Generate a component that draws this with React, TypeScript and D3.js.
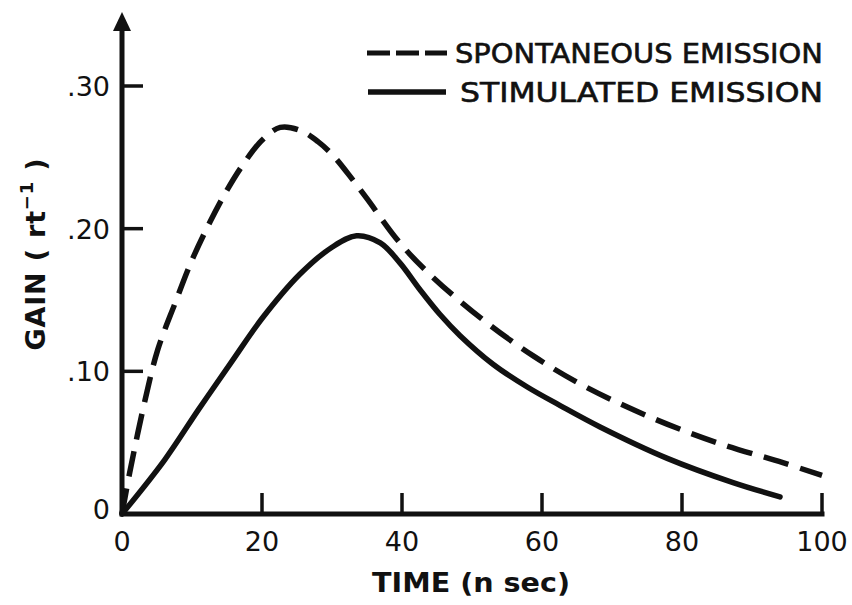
import React from "react";
import * as d3 from "d3";

const timeSpont = [0, 1.1, 3.3, 5.1, 7.6, 10, 12.6, 15, 17.3, 20, 22.6, 25.4, 28, 30.2, 33, 35, 39.7, 44.4, 51.6, 58.7, 65.9, 75.4, 85, 94.4, 100];
const gainSpont = [0, 0.029, 0.08, 0.115, 0.148, 0.178, 0.205, 0.227, 0.245, 0.262, 0.271, 0.269, 0.261, 0.251, 0.234, 0.221, 0.19, 0.166, 0.136, 0.111, 0.09, 0.068, 0.05, 0.036, 0.027];

const timeStim = [0, 6.1, 10.9, 15.7, 20, 25.4, 30, 33.5, 36.9, 39.7, 42.6, 45.4, 48.3, 53, 57.9, 62.6, 68.3, 77.9, 87.3, 94];
const gainStim = [0, 0.038, 0.073, 0.107, 0.137, 0.168, 0.187, 0.195, 0.19, 0.176, 0.157, 0.14, 0.125, 0.105, 0.089, 0.076, 0.061, 0.039, 0.022, 0.012];

const xTicks = [0, 20, 40, 60, 80, 100];
const xTickLabels = ["0", "20", "40", "60", "80", "100"];
const yTicks = [0, 0.1, 0.2, 0.3];
const yTickLabels = ["0", ".10", ".20", ".30"];

const seriesNames = ["SPONTANEOUS EMISSION", "STIMULATED EMISSION"];
const xTitle = "TIME (n sec)";

export default function App() {
  const x = d3.scaleLinear().domain([0, 100]).range([122, 822]);
  const y = d3.scaleLinear().domain([0, 0.3]).range([514, 86]);
  const ink = "#111";
  const font = "'DejaVu Sans', sans-serif";

  const line = d3
    .line<[number, number]>()
    .x((d) => x(d[0]))
    .y((d) => y(d[1]))
    .curve(d3.curveCatmullRom.alpha(0.5));

  const spont = timeSpont.map((t, i) => [t, gainSpont[i]] as [number, number]);
  const stim = timeStim.map((t, i) => [t, gainStim[i]] as [number, number]);

  const x0 = x(0);
  const y0 = y(0);

  return (
    <svg
      width={852}
      height={605}
      style={{ position: "absolute", left: 0, top: 0, background: "#fff" }}
    >
      <rect x={0} y={0} width={852} height={605} fill="#fff" />
      {/* axes */}
      <line x1={x0} y1={y0} x2={x(100)} y2={y0} stroke={ink} strokeWidth={5} strokeLinecap="square" />
      <line x1={x0} y1={y0} x2={x0} y2={28} stroke={ink} strokeWidth={5} />
      <path d={`M${x0},12 L${x0 - 9},31 L${x0 + 9},31 Z`} fill={ink} />

      {/* x ticks */}
      {xTicks.map((t, i) => (
        <g key={"xt" + t}>
          {t !== 0 && (
            <line x1={x(t)} y1={y0} x2={x(t)} y2={y0 - 21} stroke={ink} strokeWidth={3.5} />
          )}
          <text
            x={x(t)}
            y={551}
            textAnchor="middle"
            fontFamily={font}
            fontSize={27}
            fill={ink}
          >
            {xTickLabels[i]}
          </text>
        </g>
      ))}

      {/* y ticks */}
      {yTicks.map((v, i) => (
        <g key={"yt" + v}>
          {v !== 0 && (
            <line x1={x0} y1={y(v)} x2={x0 + 21} y2={y(v)} stroke={ink} strokeWidth={3.5} />
          )}
          <text
            x={110}
            y={y(v) + (v === 0 ? 5 : 10)}
            textAnchor="end"
            fontFamily={font}
            fontSize={27}
            fill={ink}
          >
            {yTickLabels[i]}
          </text>
        </g>
      ))}

      {/* curves */}
      <path
        d={line(spont) || ""}
        fill="none"
        stroke={ink}
        strokeWidth={5.5}
        strokeDasharray="26 12"
      />
      <path d={line(stim) || ""} fill="none" stroke={ink} strokeWidth={5.5} strokeLinecap="round" />

      {/* legend */}
      <line x1={367} y1={53} x2={447} y2={53} stroke={ink} strokeWidth={5} strokeDasharray="23 6" />
      <text
        x={455}
        y={63}
        fontFamily={font}
        fontSize={27}
        fill={ink}
        stroke={ink}
        strokeWidth={0.6}
        textLength={368}
        lengthAdjust="spacingAndGlyphs"
      >
        {seriesNames[0]}
      </text>
      <line x1={368} y1={92} x2={446} y2={92} stroke={ink} strokeWidth={5.5} />
      <text
        x={460}
        y={102}
        fontFamily={font}
        fontSize={27}
        fill={ink}
        stroke={ink}
        strokeWidth={0.6}
        textLength={363}
        lengthAdjust="spacingAndGlyphs"
      >
        {seriesNames[1]}
      </text>

      {/* axis titles */}
      <text
        x={471}
        y={592}
        textAnchor="middle"
        fontFamily={font}
        fontWeight="bold"
        fontSize={27}
        fill={ink}
        textLength={198}
        lengthAdjust="spacingAndGlyphs"
      >
        {xTitle}
      </text>
      <text
        transform="translate(45,254) rotate(-90)"
        textAnchor="middle"
        fontFamily={font}
        fontWeight="bold"
        fontSize={27}
        letterSpacing={0.8}
        fill={ink}
      >
        GAIN ( rt
        <tspan fontSize={18} dy={-12}>−1</tspan>
        <tspan dy={12}> )</tspan>
      </text>
    </svg>
  );
}
